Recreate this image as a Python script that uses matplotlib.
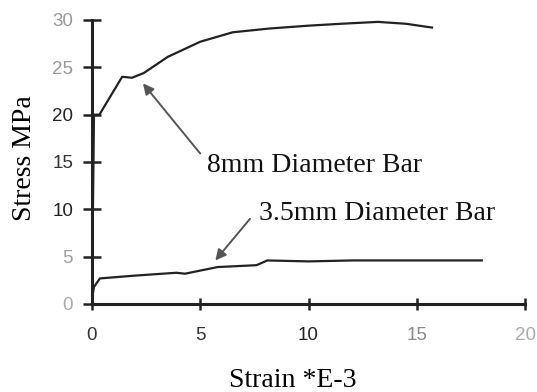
import matplotlib.pyplot as plt

# ===== data =====
strain_8mm = [0.0, 0.1, 0.35, 1.4, 1.85, 2.4, 3.5, 5.0, 6.5, 8.2, 10.0, 11.5, 13.2, 14.5, 15.7]
stress_8mm = [0.0, 20.0, 20.0, 24.0, 23.9, 24.4, 26.1, 27.7, 28.7, 29.1, 29.4, 29.6, 29.8, 29.6, 29.2]

strain_35mm = [0.0, 0.1, 0.37, 2.0, 3.9, 4.3, 5.8, 7.6, 8.1, 10.0, 12.0, 15.0, 18.0]
stress_35mm = [0.5, 1.8, 2.7, 3.0, 3.3, 3.2, 3.9, 4.1, 4.6, 4.5, 4.6, 4.6, 4.6]

xticks = [0, 5, 10, 15, 20]
yticks = [0, 5, 10, 15, 20, 25, 30]
xtick_colors = ["#333333", "#333333", "#222222", "#8a8a8a", "#aaaaaa"]
ytick_colors = ["#aaaaaa", "#a0a0a0", "#222222", "#333333", "#222222", "#999999", "#999999"]

fig = plt.figure(figsize=(5.37, 3.92), dpi=100)
ax = fig.add_axes([0.171, 0.2245, 0.807, 0.7245])

ax.plot(strain_8mm, stress_8mm, color="#222222", lw=1.6)
ax.plot(strain_35mm, stress_35mm, color="#222222", lw=1.6)

ax.set_xlim(0, 20)
ax.set_ylim(0, 30)
ax.spines["top"].set_visible(False)
ax.spines["right"].set_visible(False)
for s in ("left", "bottom"):
    ax.spines[s].set_linewidth(2.2)
    ax.spines[s].set_color("#222222")
ax.set_xticks(xticks)
ax.set_yticks(yticks)
ax.tick_params(direction="inout", width=1.8, color="#222222", labelsize=13.5)
ax.tick_params(axis="x", length=9, pad=12)
ax.tick_params(axis="y", length=13, pad=7)
for lbl, c in zip(ax.get_xticklabels(), xtick_colors):
    lbl.set_color(c)
    lbl.set_family("Liberation Sans")
for lbl, c in zip(ax.get_yticklabels(), ytick_colors):
    lbl.set_color(c)
    lbl.set_family("Liberation Sans")

ax.set_xlabel("Strain *E-3", family="Liberation Serif", fontsize=20)
ax.set_ylabel("Stress MPa", family="Liberation Serif", fontsize=20)
ax.xaxis.set_label_coords(0.464, -0.225)
ax.yaxis.set_label_coords(-0.127, 0.514)

# annotations
ax.text(5.3, 14.6, "8mm Diameter Bar", family="Liberation Serif", fontsize=20,
        va="center", ha="left", color="#111111")
ax.annotate("", xy=(2.36, 23.3), xytext=(5.0, 15.9),
            arrowprops=dict(arrowstyle="-|>", color="#555555", lw=1.4,
                            mutation_scale=16, shrinkA=0, shrinkB=0))
ax.text(7.7, 9.6, "3.5mm Diameter Bar", family="Liberation Serif", fontsize=20,
        va="center", ha="left", color="#111111")
ax.annotate("", xy=(5.7, 4.6), xytext=(7.3, 9.0),
            arrowprops=dict(arrowstyle="-|>", color="#555555", lw=1.4,
                            mutation_scale=16, shrinkA=0, shrinkB=0))

fig.savefig("out.png", dpi=100)
